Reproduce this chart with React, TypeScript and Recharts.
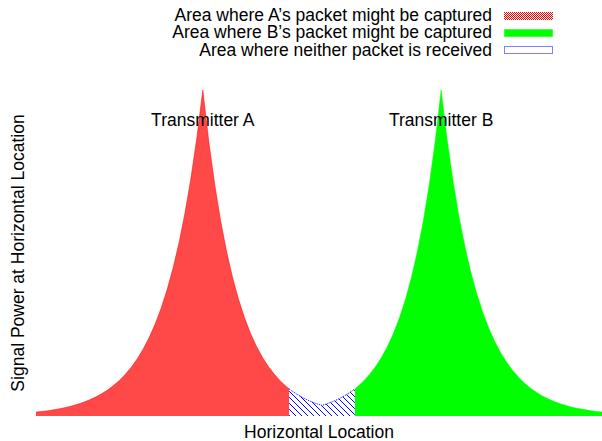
import { AreaChart, Area, XAxis, YAxis, Legend, ReferenceDot } from "recharts";

// horizontal location (arbitrary units), transmitter A sits at 0, B at 40
const locationA = [
  -28, -27, -26, -25, -24, -23, -22, -21, -20, -19, -18, -17, -16, -15, -14, -13, -12, -11, -10, -9, -8, -7, -6, -5,
  -4, -3, -2, -1, 0, 1, 2, 3, 4, 5, 6, 7, 8, 9, 10, 11, 12, 13, 14, 14.5,
];
const powerA = [
  1.19, 1.39, 1.63, 1.91, 2.24, 2.63, 3.08, 3.61, 4.22, 4.95, 5.8, 6.79, 7.95, 9.32, 10.91, 12.78, 14.97, 17.54,
  20.55, 24.07, 28.2, 33.03, 38.7, 45.33, 53.1, 62.21, 72.87, 85.37, 100, 84.24, 70.96, 59.77, 50.35, 42.42, 35.73,
  30.1, 25.35, 21.36, 17.99, 15.16, 12.77, 10.75, 9.06, 8.32,
];

const locationGap = [14.5, 15, 16, 17, 18, 19, 20, 21, 22, 23, 24, 25, 25.5];
const powerGap = [8.32, 7.63, 6.43, 5.42, 4.56, 3.84, 3.24, 3.84, 4.56, 5.42, 6.43, 7.63, 8.32];

const locationB = [
  25.5, 26, 27, 28, 29, 30, 31, 32, 33, 34, 35, 36, 37, 38, 39, 40, 41, 42, 43, 44, 45, 46, 47, 48, 49, 50, 51, 52,
  53, 54, 55, 56, 57, 58, 59, 60, 61, 62, 63, 64, 65, 66, 67,
];
const powerB = [
  8.32, 9.06, 10.75, 12.77, 15.16, 17.99, 21.36, 25.35, 30.1, 35.73, 42.42, 50.35, 59.77, 70.96, 84.24, 100, 84.88,
  72.05, 61.15, 51.91, 44.06, 37.4, 31.74, 26.94, 22.87, 19.41, 16.48, 13.99, 11.87, 10.08, 8.55, 7.26, 6.16, 5.23,
  4.44, 3.77, 3.2, 2.72, 2.31, 1.96, 1.66, 1.41, 1.2,
];

const transmitters = [
  { name: "Transmitter A", location: 0 },
  { name: "Transmitter B", location: 40 },
];

const seriesOrder = ["a", "b", "gap"];
const seriesNames: Record<string, string> = {
  a: "Area where A\u2019s packet might be captured",
  b: "Area where B\u2019s packet might be captured",
  gap: "Area where neither packet is received",
};

const FONT = '"Liberation Sans", Arial, Helvetica, sans-serif';
const FONT_SIZE = 17.5;

// merge the three pieces into one table keyed by location
const rowMap = new Map<number, any>();
const put = (xs: number[], ys: number[], key: string) => {
  xs.forEach((x, i) => {
    const row = rowMap.get(x) ?? { x };
    row[key] = ys[i];
    rowMap.set(x, row);
  });
};
put(locationA, powerA, "a");
put(locationGap, powerGap, "gap");
put(locationB, powerB, "b");
const data = Array.from(rowMap.values()).sort((p, q) => p.x - q.x);

const RED = "#ff0000";
// the 1px red/white checker turns grey when tiled over a big area here,
// so the area itself gets a flat colour close to how the checker reads
const RED_FILL = "#ff4848";
const GREEN = "#00ff00";
const BLUE = "#0000ff";

// 1px checker, written out over an 8x8 tile (legend swatch only)
let checkerPath = "";
for (let r = 0; r < 8; r++) {
  for (let c = r % 2; c < 8; c += 2) checkerPath += `M${c},${r}h1v1h-1z`;
}

const Swatch = ({ kind }: { kind: string }) => {
  if (kind === "a") {
    return <rect x={0} y={1} width={49} height={8} fill="url(#checkRed)" />;
  }
  if (kind === "b") {
    return <rect x={0.5} y={1.5} width={48} height={7} fill={GREEN} stroke={GREEN} strokeDasharray="1 1" />;
  }
  return <rect x={0.5} y={1.5} width={48} height={7} fill="#ffffff" stroke={BLUE} strokeDasharray="1 1" />;
};

const renderLegend = (props: any) => {
  const items = [...(props.payload || [])]
    .filter((p: any) => Object.values(seriesNames).includes(p.value))
    .sort((p: any, q: any) => seriesOrder.indexOf(p.dataKey) - seriesOrder.indexOf(q.dataKey));
  return (
    <div style={{ fontFamily: FONT, fontSize: FONT_SIZE, color: "#000" }}>
      {items.map((entry: any) => (
        <div
          key={entry.dataKey}
          style={{
            display: "flex",
            justifyContent: "flex-end",
            alignItems: "center",
            height: 17.3,
            lineHeight: "17.3px",
            paddingRight: 48,
          }}
        >
          <span>{entry.value}</span>
          <svg width={50} height={10} style={{ marginLeft: 12, display: "block" }}>
            <Swatch kind={entry.dataKey} />
          </svg>
        </div>
      ))}
    </div>
  );
};

export default function App() {
  return (
    <div style={{ position: "absolute", left: 0, top: 0 }}>
      <AreaChart width={602} height={441} data={data} margin={{ top: 90, right: 0, bottom: 0, left: 0 }}>
        <defs>
          <pattern id="checkRed" x={0} y={0} width={8} height={8} patternUnits="userSpaceOnUse">
            <rect x={0} y={0} width={8} height={8} fill={RED} />
            <path d={checkerPath} fill="#ffffff" />
          </pattern>
          <pattern id="hatchBlue" x={0} y={0} width={6} height={6} patternUnits="userSpaceOnUse">
            <rect x={0} y={0} width={6} height={6} fill="#ffffff" />
            <path d="M0,0 L6,6 M-1,5 L1,7 M5,-1 L7,1" stroke={BLUE} strokeWidth={1} />
          </pattern>
        </defs>
        <XAxis
          dataKey="x"
          type="number"
          domain={[-28, 67]}
          tick={false}
          tickLine={false}
          axisLine={false}
          height={25}
          label={{ value: "Horizontal Location", position: "center", dy: 3, fill: "#000", fontSize: FONT_SIZE, fontFamily: FONT }}
        />
        <YAxis
          type="number"
          domain={[0, 100]}
          tick={false}
          tickLine={false}
          axisLine={false}
          width={36}
          label={{
            value: "Signal Power at Horizontal Location",
            angle: -90,
            position: "center",
            fill: "#000",
            fontSize: FONT_SIZE,
            fontFamily: FONT,
          }}
        />
        <Legend
          layout="vertical"
          align="center"
          verticalAlign="middle"
          content={renderLegend}
          wrapperStyle={{ top: 7, left: 0, width: 602 }}
        />
        <Area
          type="linear"
          dataKey="a"
          name={seriesNames.a}
          fill={RED_FILL}
          fillOpacity={1}
          stroke={RED}
          strokeWidth={0.5}
          dot={false}
          activeDot={false}
          isAnimationActive={false}
        />
        <Area
          type="linear"
          dataKey="b"
          name={seriesNames.b}
          fill={GREEN}
          fillOpacity={1}
          stroke={GREEN}
          strokeWidth={0.5}
          dot={false}
          activeDot={false}
          isAnimationActive={false}
        />
        <Area
          type="linear"
          dataKey="gap"
          name={seriesNames.gap}
          fill="url(#hatchBlue)"
          fillOpacity={1}
          stroke={BLUE}
          strokeWidth={1}
          strokeDasharray="1 1"
          dot={false}
          activeDot={false}
          isAnimationActive={false}
        />
        {transmitters.map((t) => (
          <ReferenceDot
            key={t.name}
            x={t.location}
            y={91}
            r={1}
            fill="none"
            stroke="none"
            label={{ value: t.name, position: "center", fill: "#000", fontSize: FONT_SIZE, fontFamily: FONT }}
          />
        ))}
      </AreaChart>
    </div>
  );
}
